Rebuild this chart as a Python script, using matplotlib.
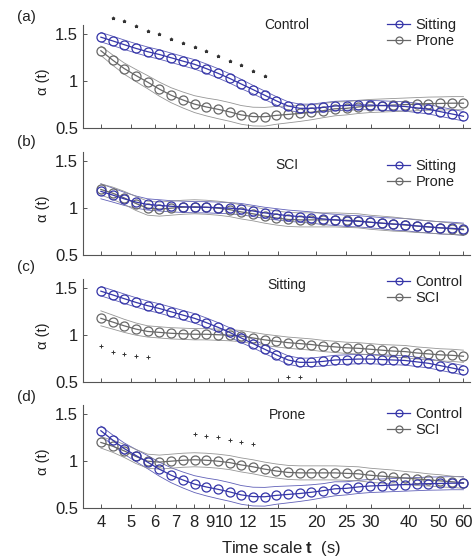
import matplotlib
matplotlib.use('Agg')
import matplotlib.pyplot as plt
import matplotlib.transforms as mtransforms
from matplotlib.lines import Line2D
import numpy as np

plt.rcParams['font.family'] = ['Liberation Sans', 'DejaVu Sans']
plt.rcParams['mathtext.fontset'] = 'custom'
plt.rcParams['mathtext.rm'] = 'Liberation Sans'
plt.rcParams['mathtext.bf'] = 'Liberation Sans:bold'

# --- Données ---
temps = [4.00, 4.37, 4.76, 5.20, 5.67, 6.19, 6.76, 7.37, 8.05, 8.78, 9.58,
         10.46, 11.41, 12.46, 13.59, 14.83, 16.19, 17.67, 19.28, 21.04, 22.96,
         25.05, 27.34, 29.84, 32.56, 35.53, 38.78, 42.32, 46.18, 50.40, 55.00, 60.00]

ctrl_sit = [1.47, 1.43, 1.39, 1.35, 1.315, 1.285, 1.25, 1.215, 1.18, 1.135, 1.085,
            1.03, 0.97, 0.91, 0.85, 0.79, 0.735, 0.71, 0.71, 0.72, 0.735,
            0.74, 0.745, 0.745, 0.74, 0.735, 0.73, 0.715, 0.70, 0.675, 0.65, 0.625]
ctrl_sit_se = [0.05, 0.05, 0.05, 0.05, 0.05, 0.05, 0.05, 0.05, 0.05, 0.05, 0.05,
               0.05, 0.05, 0.045, 0.045, 0.045, 0.045, 0.045, 0.045, 0.05, 0.05,
               0.05, 0.05, 0.05, 0.05, 0.05, 0.05, 0.05, 0.05, 0.05, 0.05, 0.05]

ctrl_prone = [1.325, 1.225, 1.135, 1.06, 0.99, 0.915, 0.85, 0.80, 0.755, 0.725, 0.70,
              0.672, 0.64, 0.622, 0.62, 0.635, 0.645, 0.655, 0.668, 0.685, 0.705,
              0.71, 0.725, 0.735, 0.74, 0.745, 0.75, 0.755, 0.76, 0.762, 0.765, 0.765]
ctrl_prone_se = [0.05, 0.055, 0.06, 0.065, 0.07, 0.075, 0.08, 0.085, 0.09, 0.095, 0.10,
                 0.10, 0.10, 0.10, 0.10, 0.095, 0.09, 0.085, 0.08, 0.075, 0.075,
                 0.07, 0.07, 0.07, 0.07, 0.07, 0.07, 0.07, 0.07, 0.07, 0.07, 0.07]

sci_sit = [1.18, 1.14, 1.10, 1.065, 1.04, 1.03, 1.02, 1.015, 1.01, 1.01, 1.005,
           1.0, 0.99, 0.97, 0.95, 0.935, 0.92, 0.91, 0.90, 0.885, 0.875,
           0.865, 0.86, 0.85, 0.84, 0.83, 0.825, 0.81, 0.80, 0.79, 0.785, 0.775]
sci_sit_se = [0.08, 0.075, 0.07, 0.065, 0.06, 0.06, 0.06, 0.06, 0.06, 0.06, 0.06,
              0.06, 0.06, 0.06, 0.06, 0.06, 0.06, 0.06, 0.06, 0.06, 0.06,
              0.06, 0.06, 0.06, 0.06, 0.065, 0.065, 0.065, 0.065, 0.065, 0.065, 0.065]

sci_prone = [1.20, 1.16, 1.11, 1.05, 1.0, 0.99, 1.0, 1.01, 1.015, 1.01, 1.0,
             0.985, 0.96, 0.94, 0.915, 0.895, 0.88, 0.875, 0.875, 0.875, 0.875,
             0.87, 0.865, 0.85, 0.84, 0.83, 0.82, 0.81, 0.80, 0.79, 0.78, 0.77]
sci_prone_se = [0.06, 0.065, 0.07, 0.075, 0.075, 0.075, 0.075, 0.075, 0.075, 0.075, 0.075,
                0.075, 0.075, 0.075, 0.075, 0.075, 0.075, 0.075, 0.075, 0.075, 0.075,
                0.075, 0.075, 0.075, 0.075, 0.075, 0.07, 0.07, 0.065, 0.065, 0.06, 0.06]

# marques de significativité : (indices des temps, hauteurs)
etoiles_a_idx = [1, 2, 3, 4, 5, 6, 7, 8, 9, 10, 11, 12, 13, 14]
etoiles_a_val = [1.68, 1.64, 1.59, 1.54, 1.50, 1.45, 1.41, 1.36, 1.32, 1.27, 1.22, 1.17, 1.11, 1.06]
etoiles_c_idx = [0, 1, 2, 3, 4, 16, 17]
etoiles_c_val = [0.88, 0.82, 0.80, 0.78, 0.77, 0.555, 0.555]
etoiles_d_idx = [8, 9, 10, 11, 12, 13]
etoiles_d_val = [1.29, 1.265, 1.26, 1.23, 1.205, 1.18]

xticks = [4, 5, 6, 7, 8, 9, 10, 12, 15, 20, 25, 30, 40, 50, 60]
yticks = [0.5, 1, 1.5]
ytick_labels = ['0.5', '1', '1.5']

BLEU, BLEU_SE = '#3535a8', '#6060b8'
GRIS, GRIS_SE = '#686868', '#959595'

PANNEAUX = [
    ('(a)', 'Control', [(ctrl_sit, ctrl_sit_se, 'Sitting', BLEU, BLEU_SE),
                        (ctrl_prone, ctrl_prone_se, 'Prone', GRIS, GRIS_SE)],
     (etoiles_a_idx, etoiles_a_val, '*', 2.4)),
    ('(b)', 'SCI', [(sci_sit, sci_sit_se, 'Sitting', BLEU, BLEU_SE),
                    (sci_prone, sci_prone_se, 'Prone', GRIS, GRIS_SE)],
     None),
    ('(c)', 'Sitting', [(ctrl_sit, ctrl_sit_se, 'Control', BLEU, BLEU_SE),
                        (sci_sit, sci_sit_se, 'SCI', GRIS, GRIS_SE)],
     (etoiles_c_idx, etoiles_c_val, '+', 3.2)),
    ('(d)', 'Prone', [(ctrl_prone, ctrl_prone_se, 'Control', BLEU, BLEU_SE),
                      (sci_prone, sci_prone_se, 'SCI', GRIS, GRIS_SE)],
     (etoiles_d_idx, etoiles_d_val, '+', 3.2)),
]

# mise en page (pixels de la figure 474 x 559)
W, H = 474, 559
bas_px = [128, 255, 382, 508]
titre_px = [25, 165, 285, 415]
legende_px = [26, 167, 283, 415]
lettre_px = [17, 142, 267, 397]

fig = plt.figure(figsize=(W / 100, H / 100), dpi=100)
t = np.array(temps)

for k, (lettre, titre, courbes, etoiles) in enumerate(PANNEAUX):
    ax = fig.add_axes([83 / W, 1 - bas_px[k] / H, 387 / W, 103 / H])
    handles = []
    for moy, se, nom, c, c_se in courbes:
        moy = np.array(moy)
        se = np.array(se)
        ax.plot(t, moy + se, color=c_se, lw=0.6, zorder=1)
        ax.plot(t, moy - se, color=c_se, lw=0.6, zorder=1)
    for j, (moy, se, nom, c, c_se) in reversed(list(enumerate(courbes))):
        ax.plot(t, moy, color=c, lw=0.9, marker='o', ms=6.5, mfc='none',
                mew=0.9, mec=c, zorder=3 - j)
    for moy, se, nom, c, c_se in courbes:
        handles.append(Line2D([], [], color=c, lw=0.9, marker='o', ms=5,
                              mfc='none', mew=0.9, label=nom))
    if etoiles is not None:
        idx, val, m, taille = etoiles
        ax.plot(t[idx], val, ls='none', marker=m, ms=taille, color='#333333',
                mew=0.7, clip_on=False, zorder=4)

    ax.set_xscale('log')
    ax.set_xlim(3.5, 63)
    ax.set_ylim(0.5, 1.6)
    ax.xaxis.set_major_locator(plt.FixedLocator(xticks))
    ax.xaxis.set_minor_locator(plt.NullLocator())
    ax.set_yticks(yticks)
    ax.set_yticklabels(ytick_labels)
    if k == 3:
        ax.set_xticklabels([str(v) for v in xticks])
    else:
        ax.set_xticklabels([])
    ax.tick_params(direction='in', length=3, width=0.7, color='#555555',
                   labelsize=12, labelcolor='#222222')
    ax.tick_params(axis='x', pad=5)
    ax.tick_params(axis='y', pad=3.5)
    for s in ['top', 'right']:
        ax.spines[s].set_visible(False)
    for s in ['left', 'bottom']:
        ax.spines[s].set_color('#555555')
        ax.spines[s].set_linewidth(0.8)

    trans = mtransforms.blended_transform_factory(ax.transAxes, ax.transData)
    ax.text(-0.103, 0.99, 'α (t)', transform=trans, rotation=90,
            ha='center', va='center', fontsize=10.5, color='#222222')
    fig.text(287 / W, 1 - titre_px[k] / H, titre, ha='center', va='center',
             fontsize=10, color='#222222')
    fig.text(26 / W, 1 - lettre_px[k] / H, lettre, ha='center', va='center',
             fontsize=11, color='#222222')
    ax.legend(handles=handles, loc='upper left',
              bbox_to_anchor=(387 / W, 1 - (legende_px[k] - 8) / H),
              bbox_transform=fig.transFigure, frameon=False, borderpad=0,
              borderaxespad=0, handlelength=1.6, handletextpad=0.35,
              labelspacing=0.15, fontsize=10.5, labelcolor='#222222')

fig.text(281 / W, 1 - 548 / H, r'Time scale $\mathbf{t}$  (s)', ha='center',
         va='center', fontsize=12, color='#222222')

fig.savefig('out.png', dpi=100)
